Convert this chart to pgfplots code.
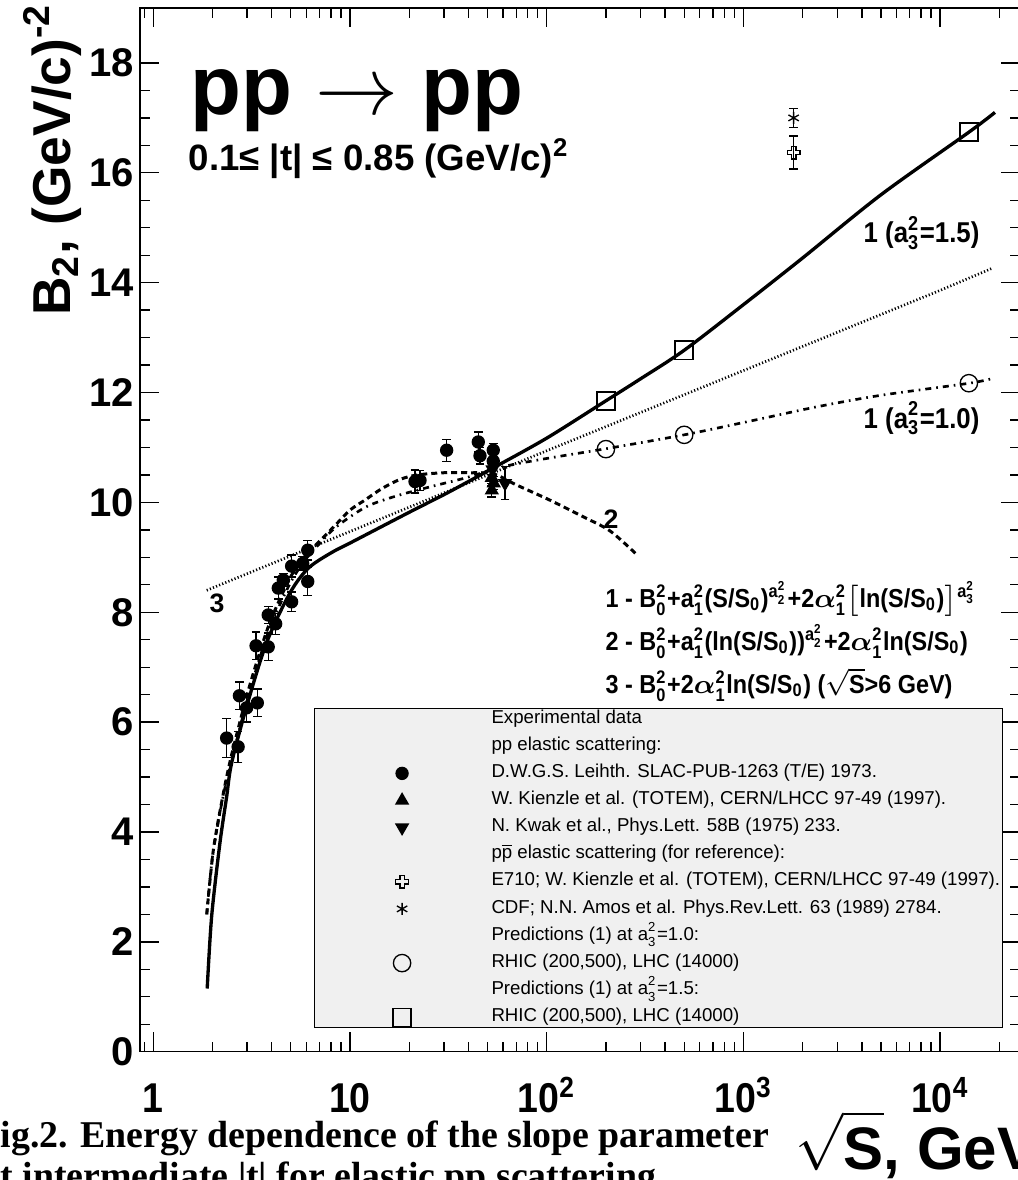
\documentclass[border=0pt]{standalone}
\usepackage{fontspec}
\setmainfont{Liberation Sans}
\newfontfamily\narrowsf[FakeStretch=0.9]{Liberation Sans}
\newfontfamily\capfont{Liberation Serif}
\usepackage{amsmath}
\usepackage{pgfplots}
\pgfplotsset{compat=1.18}

\definecolor{lgray}{RGB}{240,240,240}

% open cross marker (ROOT style 28)
\pgfdeclareplotmark{opencross}{%
  \pgfpathmoveto{\pgfqpoint{-0.35\pgfplotmarksize}{\pgfplotmarksize}}%
  \pgfpathlineto{\pgfqpoint{0.35\pgfplotmarksize}{\pgfplotmarksize}}%
  \pgfpathlineto{\pgfqpoint{0.35\pgfplotmarksize}{0.35\pgfplotmarksize}}%
  \pgfpathlineto{\pgfqpoint{\pgfplotmarksize}{0.35\pgfplotmarksize}}%
  \pgfpathlineto{\pgfqpoint{\pgfplotmarksize}{-0.35\pgfplotmarksize}}%
  \pgfpathlineto{\pgfqpoint{0.35\pgfplotmarksize}{-0.35\pgfplotmarksize}}%
  \pgfpathlineto{\pgfqpoint{0.35\pgfplotmarksize}{-\pgfplotmarksize}}%
  \pgfpathlineto{\pgfqpoint{-0.35\pgfplotmarksize}{-\pgfplotmarksize}}%
  \pgfpathlineto{\pgfqpoint{-0.35\pgfplotmarksize}{-0.35\pgfplotmarksize}}%
  \pgfpathlineto{\pgfqpoint{-\pgfplotmarksize}{-0.35\pgfplotmarksize}}%
  \pgfpathlineto{\pgfqpoint{-\pgfplotmarksize}{0.35\pgfplotmarksize}}%
  \pgfpathlineto{\pgfqpoint{-0.35\pgfplotmarksize}{0.35\pgfplotmarksize}}%
  \pgfpathclose\pgfusepathqstroke}

\newcommand{\su}[2]{\ensuremath{^{\text{#1}}_{\text{#2}}}}
\newcommand{\sbs}[1]{\ensuremath{_{\text{#1}}}}
\newcommand{\aexp}[1]{\ensuremath{^{\text{a}^{\text{2}}_{\text{#1}}}}}
\newcommand{\alp}{\ensuremath{\boldsymbol{\alpha}}}

\begin{document}
\begin{tikzpicture}[x=0.3pt,y=-0.3pt]
\path[use as bounding box] (0,0) rectangle (1018,1180);
\clip (0,0) rectangle (1018,1180);

\begin{axis}[
    at={(41.97pt,-315.51pt)}, anchor=south west,
    scale only axis, width=264.06pt, height=313.1pt,
    xmode=log, xmin=0.855, xmax=25500,
    ymin=0, ymax=19,
    xtick={1,10,100,1000,10000},
    xticklabels={1,10,10\textsuperscript{2},10\textsuperscript{3},10\textsuperscript{4}},
    minor xtick={0.9,2,3,4,5,6,7,8,9,20,30,40,50,60,70,80,90,200,300,400,500,600,700,800,900,2000,3000,4000,5000,6000,7000,8000,9000,20000},
    ytick={0,2,...,18},
    minor y tick num=3,
    tick align=inside,
    major tick length=5.8pt, minor tick length=2.9pt,
    axis line style={line width=0.45pt},
    every tick/.style={black, line width=0.4pt},
    /pgf/number format/assume math mode=true,
    yticklabel style={font=\bfseries\fontsize{12}{12}\selectfont, inner sep=0pt, anchor=east, xshift=-1.5pt},
    xticklabel style={font=\narrowsf\bfseries\fontsize{12.5}{12.5}\selectfont, inner sep=0pt, anchor=base, yshift=-18.1pt},
    xlabel={$\sqrt{\rule{0pt}{15.5pt}\mbox{S}}$, GeV},
    xlabel style={at={(axis description cs:0.7443,-0.1133)}, anchor=base west, inner sep=0pt,
        font=\bfseries\fontsize{18}{18}\selectfont},
    ylabel={B\textsubscript{2}, (GeV/c)\textsuperscript{-2}},
    ylabel style={at={(axis description cs:-0.0794,1.0048)}, rotate=0, anchor=base east, inner sep=0pt,
        font=\bfseries\fontsize{16}{16}\selectfont},
    legend cell align=left,
    legend image code/.code={\path (0pt,0pt) (52pt,0pt); \draw[#1] plot coordinates {(26pt,0pt)};},
    legend style={at={(0.1978,0.3293)}, anchor=north west, fill=lgray, draw=black, line width=0.4pt,
        font=\fontsize{5.6}{6.5}\selectfont, inner xsep=0pt, inner ysep=0.4pt, row sep=2.63pt,
        nodes={inner xsep=0.6pt, inner ysep=0pt, text height=4pt, text depth=1.5pt}},
    error bars/y dir=both, error bars/y explicit,
    error bars/error bar style={line width=0.4pt, black},
    error bars/error mark options={rotate=90, mark size=1.3pt, line width=0.4pt, black},
]

% curve 1, a3^2 = 1.5 (solid)
\addplot[forget plot, black, line width=1pt, smooth] coordinates {
 (1.88,1.15) (1.98,2.46) (2.18,3.79) (2.36,4.64) (2.5,5.25) (2.98,6.28) (3.77,7.45)
 (4.95,8.35) (6.13,8.8) (8,9.08) (10,9.26) (20,9.82) (30,10.14) (40,10.38) (53,10.62)
 (100,11.17) (200,11.85) (300,12.25) (500,12.77) (1000,13.6) (2000,14.45) (5000,15.6)
 (14000,16.74) (19000,17.1)};

% curve 2 (dashed)
\addplot[forget plot, black, line width=0.9pt, dash pattern=on 1.8pt off 1.2pt, smooth] coordinates {
 (1.87,2.5) (2.02,3.67) (2.27,4.7) (2.5,5.4) (3,6.5) (3.5,7.3) (4,7.9) (5,8.65) (6,9.05)
 (7.04,9.3) (8.5,9.6) (10,9.86) (12,10.05) (14.5,10.25) (18,10.42) (22,10.5) (30,10.54)
 (40,10.54) (53.5,10.52) (70,10.32) (104,10.04) (153,9.74) (210,9.48) (287,9.05)};

% curve 1, a3^2 = 1.0 (dash-dotted)
\addplot[forget plot, black, line width=0.8pt, dash pattern=on 1.8pt off 1.5pt on 0.5pt off 1.5pt, smooth] coordinates {
 (1.87,2.5) (2.0,3.55) (2.25,4.6) (2.5,5.3) (3,6.4) (3.5,7.2) (4,7.8) (5,8.55) (6,8.98)
 (7,9.25) (8.55,9.56) (12.1,9.92) (17.3,10.12) (26,10.29) (39,10.45) (60,10.65) (100,10.8)
 (202,10.98) (500,11.23) (1081,11.48) (2360,11.74) (5000,11.95) (14070,12.17) (18600,12.26)};

% curve 3 (dotted)
\addplot[forget plot, black, line width=0.8pt, dash pattern=on 0.35pt off 0.65pt] coordinates {
 (1.87,8.40) (10,9.47) (100,10.94) (1000,12.40) (10000,13.86) (18600,14.27)};

\addlegendimage{empty legend}\addlegendentry{Experimental data}
\addlegendimage{empty legend}\addlegendentry{pp elastic scattering:}

\addplot[only marks, mark=*, mark size=1.8pt, black] coordinates {
 (2.36,5.71) +- (0,0.35)  (2.70,5.55) +- (0,0.28)  (2.74,6.48) +- (0,0.25)
 (2.98,6.26) +- (0,0.26)  (3.38,6.35) +- (0,0.25)  (3.33,7.39) +- (0,0.25)
 (3.84,7.37) +- (0,0.25)  (3.84,7.95) +- (0,0.15)  (4.19,7.79) +- (0,0.19)
 (4.32,8.44) +- (0,0.2)   (5.05,8.19) +- (0,0.18)  (4.58,8.59) +- (0,0.12)
 (5.05,8.84) +- (0,0.2)   (5.75,8.89) +- (0,0.12)  (6.10,9.13) +- (0,0.18)
 (6.10,8.56) +- (0,0.25)  (21.4,10.38) +- (0,0.21) (22.7,10.40) +- (0,0.18)
 (31.0,10.95) +- (0,0.2)  (44.9,11.10) +- (0,0.18) (45.8,10.85) +- (0,0.15)
 (53.5,10.95) +- (0,0.12) (53.5,10.75) +- (0,0.12)};
\addlegendentry{D.W.G.S. Leihth. SLAC-PUB-1263 (T/E) 1973.}

\addplot[only marks, mark=triangle*, mark size=2.1pt, black] coordinates {
 (52.6,10.45) +- (0,0.15) (52.6,10.22) +- (0,0.12) (53.8,10.35) +- (0,0.12)};
\addlegendentry{W. Kienzle et al. (TOTEM), CERN/LHCC 97-49 (1997).}

\addplot[only marks, mark=triangle*, mark size=2.1pt, mark options={rotate=180}, black] coordinates {
 (61.4,10.35) +- (0,0.3) (53.0,10.6) +- (0,0.1)};
\addlegendentry{N. Kwak et al., Phys.Lett. 58B (1975) 233.}

\addlegendimage{empty legend}\addlegendentry{p$\overline{\mbox{p}}$ elastic scattering (for reference):}

\addplot[only marks, mark=opencross, mark size=1.9pt, black, line width=0.4pt] coordinates {
 (1800,16.37) +- (0,0.3)};
\addlegendentry{E710; W. Kienzle et al. (TOTEM), CERN/LHCC 97-49 (1997).}

\addplot[only marks, mark=asterisk, mark size=1.8pt, black, line width=0.4pt] coordinates {
 (1800,17.0) +- (0,0.17)};
\addlegendentry{CDF; N.N. Amos et al. Phys.Rev.Lett. 63 (1989) 2784.}

\addlegendimage{empty legend}\addlegendentry{Predictions (1) at a\su{2}{3}=1.0:}

\addplot[only marks, mark=o, mark size=2.6pt, black, line width=0.4pt] coordinates {
 (200,10.97) (500,11.23) (14000,12.17)};
\addlegendentry{RHIC (200,500), LHC (14000)}

\addlegendimage{empty legend}\addlegendentry{Predictions (1) at a\su{2}{3}=1.5:}

\addplot[only marks, mark=square, mark size=2.7pt, black, line width=0.45pt] coordinates {
 (200,11.85) (500,12.77) (14000,16.74)};
\addlegendentry{RHIC (200,500), LHC (14000)}

\end{axis}

% annotations (picture pixel units)
\node[anchor=base west, inner sep=0pt, font=\bfseries\fontsize{25}{25}\selectfont] at (190,115)
  {pp $\rightarrow$ pp};
\node[anchor=base west, inner sep=0pt, font=\bfseries\fontsize{11}{11}\selectfont] at (188,170)
  {0.1≤ |t| ≤ 0.85 (GeV/c)\textsuperscript{2}};
\node[anchor=base west, inner sep=0pt, font=\narrowsf\bfseries\fontsize{8.6}{9}\selectfont] at (863,243)
  {1 (a\su{2}{3}=1.5)};
\node[anchor=base west, inner sep=0pt, font=\narrowsf\bfseries\fontsize{8.6}{9}\selectfont] at (863,428)
  {1 (a\su{2}{3}=1.0)};
\node[inner sep=0pt, font=\bfseries\fontsize{8}{8}\selectfont] at (611,519) {2};
\node[inner sep=0pt, font=\bfseries\fontsize{8}{8}\selectfont] at (217,603) {3};
\begin{scope}[every node/.style={anchor=base west, inner sep=0pt, font=\narrowsf\bfseries\fontsize{7.8}{8}\selectfont}]
\node at (605,607)
  {1 - B\su{2}{0}+a\su{2}{1}(S/S\sbs{0})\aexp{2}+2\alp\su{2}{1}$\bigl[$ln(S/S\sbs{0})$\bigr]$\aexp{3}};
\node at (605,650)
  {2 - B\su{2}{0}+a\su{2}{1}(ln(S/S\sbs{0}))\aexp{2}+2\alp\su{2}{1}ln(S/S\sbs{0})};
\node at (605,693)
  {3 - B\su{2}{0}+2\alp\su{2}{1}ln(S/S\sbs{0}) ($\sqrt{\mbox{S}}$>6 GeV)};
\end{scope}

% caption of the figure
\node[anchor=base west, inner sep=0pt, font=\capfont\bfseries\fontsize{11.35}{13}\selectfont] at (-23,1147)
  {Fig.2. Energy dependence of the slope parameter};
\node[anchor=base west, inner sep=0pt, font=\capfont\bfseries\fontsize{11.35}{13}\selectfont] at (-19,1188)
  {at intermediate |t| for elastic pp scattering};
\end{tikzpicture}
\end{document}
